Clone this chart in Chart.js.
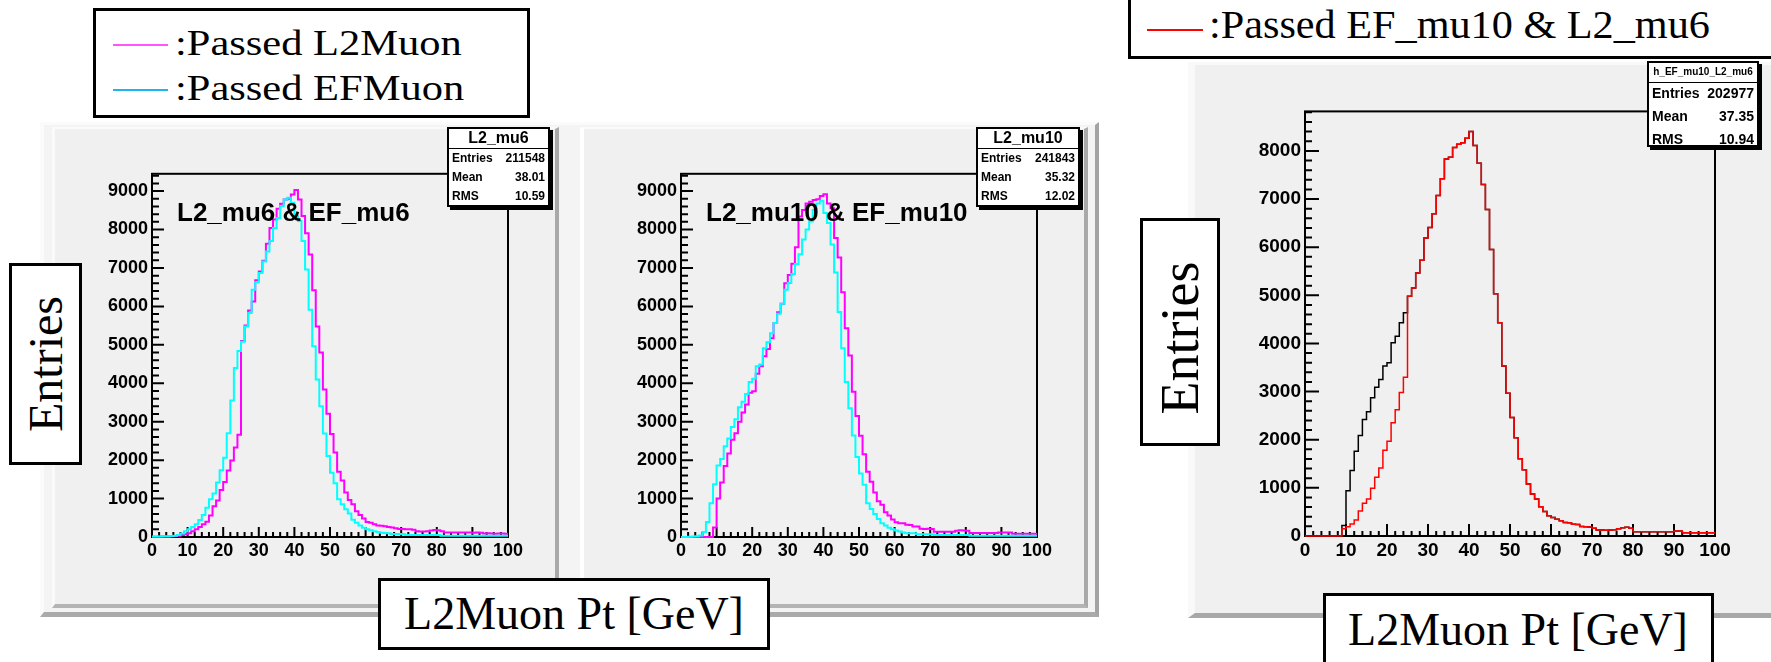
<!DOCTYPE html>
<html>
<head>
<meta charset="utf-8">
<script src="https://cdn.jsdelivr.net/npm/chart.js@4.4.0/dist/chart.umd.min.js"></script>
<style>
  body { margin:0; width:1771px; height:662px; background:#fff; position:relative; overflow:hidden;
         font-family:"Liberation Sans", Arial, sans-serif; }
  .abs { position:absolute; box-sizing:border-box; }
  .box { background:#fff; border:3px solid #000; }
  .serif { font-family:"Liberation Serif", "Times New Roman", serif; white-space:nowrap; line-height:1; color:#000; }
  .stats { background:#fff; border:2px solid #000; box-shadow:3px 3px 0 #000; font-weight:bold; color:#000; }
  .stats .t { position:absolute; left:0; right:0; top:0; text-align:center; border-bottom:1.5px solid #000; }
  .stats .r { position:absolute; left:3px; right:3px; display:flex; justify-content:space-between; }
  .title { font-weight:bold; font-size:26px; line-height:26px; white-space:nowrap; color:#000; }
</style>
</head>
<body>

<!-- left canvas with the two pads -->
<div class="abs" style="left:40px;top:122px;width:1059px;height:495px;background:#f4f4f4;border-left:4px solid #fbfbfb;border-top:3px solid #fbfbfb;border-right:4px solid #a4a4a4;border-bottom:5px solid #aaaaaa;"></div>
<div class="abs" style="left:52px;top:127px;width:507px;height:481px;background:#f0f0f0;border-left:3px solid #fafafa;border-top:2px solid #fafafa;border-right:4px solid #a9a9a9;border-bottom:4px solid #b4b4b4;"></div>
<div class="abs" style="left:580px;top:127px;width:508px;height:481px;background:#f0f0f0;border-left:4px solid #ffffff;border-top:2px solid #fafafa;border-right:4px solid #a9a9a9;border-bottom:4px solid #b4b4b4;"></div>

<!-- right canvas -->
<div class="abs" style="left:1188px;top:62px;width:600px;height:556px;background:#f0f0f0;border-left:7px solid #f9f9f9;border-top:3px solid #f9f9f9;border-bottom:5px solid #a8a8a8;"></div>

<canvas id="c_mu6" class="abs"></canvas>
<canvas id="c_mu10" class="abs"></canvas>
<canvas id="c_ef" class="abs"></canvas>

<!-- pad titles -->
<div class="abs title" style="left:177px;top:199px;">L2_mu6 &amp; EF_mu6</div>
<div class="abs title" style="left:706px;top:199px;">L2_mu10 &amp; EF_mu10</div>

<!-- stats boxes -->
<div class="abs stats" style="left:447px;top:127px;width:103px;height:80px;">
  <div class="t" style="height:19px;font-size:16px;line-height:18px;">L2_mu6</div>
  <div class="r" style="top:20px;font-size:12px;line-height:19px;"><span>Entries</span><span>211548</span></div>
  <div class="r" style="top:39px;font-size:12px;line-height:19px;"><span>Mean</span><span>38.01</span></div>
  <div class="r" style="top:58px;font-size:12px;line-height:19px;"><span>RMS</span><span>10.59</span></div>
</div>
<div class="abs stats" style="left:976px;top:127px;width:104px;height:80px;">
  <div class="t" style="height:19px;font-size:16px;line-height:18px;">L2_mu10</div>
  <div class="r" style="top:20px;font-size:12px;line-height:19px;"><span>Entries</span><span>241843</span></div>
  <div class="r" style="top:39px;font-size:12px;line-height:19px;"><span>Mean</span><span>35.32</span></div>
  <div class="r" style="top:58px;font-size:12px;line-height:19px;"><span>RMS</span><span>12.02</span></div>
</div>
<div class="abs stats" style="left:1647px;top:61px;width:112px;height:86px;">
  <div class="t" style="height:19px;font-size:10px;line-height:18px;">h_EF_mu10_L2_mu6</div>
  <div class="r" style="top:19px;font-size:14px;line-height:23px;"><span>Entries</span><span>202977</span></div>
  <div class="r" style="top:42px;font-size:14px;line-height:23px;"><span>Mean</span><span>37.35</span></div>
  <div class="r" style="top:65px;font-size:14px;line-height:23px;"><span>RMS</span><span>10.94</span></div>
</div>

<!-- legends -->
<div class="abs box" style="left:93px;top:8px;width:437px;height:110px;"></div>
<div class="abs" style="left:113px;top:44px;width:55px;height:2px;background:#ff55ff;"></div>
<div class="abs" style="left:113px;top:89px;width:55px;height:2px;background:#1eb4f0;"></div>
<div class="abs serif" style="left:175px;top:25px;font-size:36px;transform:scaleX(1.18);transform-origin:0 0;">:Passed L2Muon</div>
<div class="abs serif" style="left:175px;top:70px;font-size:36px;transform:scaleX(1.18);transform-origin:0 0;">:Passed EFMuon</div>

<div class="abs box" style="left:1128px;top:-4px;width:700px;height:63px;"></div>
<div class="abs" style="left:1147px;top:29px;width:56px;height:2px;background:#ff0000;"></div>
<div class="abs serif" style="left:1209px;top:4px;font-size:41px;transform:scaleX(1.03);transform-origin:0 0;">:Passed EF_mu10 &amp; L2_mu6</div>

<!-- axis title boxes -->
<div class="abs box" style="left:9px;top:263px;width:73px;height:202px;"></div>
<div class="abs serif" style="left:46px;top:364px;font-size:48px;transform:translate(-50%,-50%) rotate(-90deg);">Entries</div>
<div class="abs box" style="left:1140px;top:218px;width:80px;height:228px;"></div>
<div class="abs serif" style="left:1180px;top:338px;font-size:54px;transform:translate(-50%,-50%) rotate(-90deg);">Entries</div>

<div class="abs box" style="left:378px;top:578px;width:392px;height:72px;"></div>
<div class="abs serif" style="left:574px;top:614px;font-size:46px;transform:translate(-50%,-50%);">L2Muon Pt [GeV]</div>
<div class="abs box" style="left:1323px;top:593px;width:391px;height:90px;"></div>
<div class="abs serif" style="left:1518px;top:630px;font-size:46px;transform:translate(-50%,-50%);">L2Muon Pt [GeV]</div>

<script>
// 100 bins of 1 GeV from 0 to 100
const xMin = 0;
const xMax = 100;
const xTickStep = 10;
const yTickStep = 1000;

// pad 1 : L2_mu6 & EF_mu6
const mu6_L2Muon = [
  5, 8, 10, 12, 15, 20, 25, 35, 50, 70,
  100, 150, 200, 260, 330, 400, 560, 800, 950, 1220,
  1430, 1730, 1990, 2330, 2660, 5100, 5500, 5890, 6130, 6680,
  6910, 7190, 7630, 8040, 8260, 8540, 8670, 8780, 8800, 8910,
  9030, 8780, 8350, 7900, 7350, 6420, 5480, 4800, 3840, 3210,
  2680, 2200, 1700, 1470, 1160, 960, 850, 670, 570, 480,
  390, 370, 330, 300, 290, 280, 260, 250, 230, 210,
  210, 200, 200, 190, 150, 140, 140, 150, 170, 180,
  175, 150, 120, 120, 120, 115, 120, 115, 120, 115,
  110, 115, 110, 90, 95, 90, 85, 90, 90, 85
];
const mu6_EFMuon = [
  10, 12, 15, 18, 20, 25, 35, 50, 90, 150,
  200, 260, 330, 440, 570, 760, 980, 1130, 1420, 1740,
  2060, 2700, 3550, 4400, 4840, 5080, 5480, 5830, 6430, 6630,
  6870, 7170, 7430, 7700, 8040, 8300, 8610, 8780, 8830, 8700,
  8350, 8220, 7700, 6960, 5910, 4960, 4100, 3400, 2690, 2110,
  1670, 1400, 980, 850, 720, 610, 450, 370, 300, 240,
  200, 175, 150, 130, 110, 105, 100, 80, 80, 75,
  75, 55, 55, 55, 55, 55, 55, 55, 55, 55,
  55, 35, 35, 35, 35, 35, 35, 35, 35, 35,
  35, 35, 35, 35, 35, 35, 35, 35, 35, 35
];

// pad 2 : L2_mu10 & EF_mu10
const mu10_L2Muon = [
  0, 0, 0, 0, 0, 0, 0, 0, 0, 250,
  1000, 1420, 1850, 2170, 2530, 2700, 3000, 3240, 3450, 3750,
  3790, 4250, 4440, 4700, 4890, 5170, 5570, 5850, 6070, 6600,
  6815, 7110, 7540, 8340, 8510, 8680, 8725, 8770, 8790, 8870,
  8920, 8680, 8555, 7780, 7270, 6370, 5430, 4720, 3780, 3150,
  2635, 2150, 1700, 1440, 1160, 930, 840, 645, 560, 455,
  385, 360, 355, 320, 315, 275, 270, 215, 210, 215,
  205, 135, 135, 135, 135, 135, 135, 165, 175, 170,
  160, 105, 105, 105, 105, 105, 105, 105, 105, 120,
  120, 120, 120, 85, 85, 85, 85, 85, 85, 85
];
const mu10_EFMuon = [
  0, 0, 5, 10, 20, 40, 130, 390, 875, 1370,
  1860, 2030, 2360, 2560, 2860, 3065, 3375, 3520, 3720, 4030,
  4120, 4440, 4490, 4910, 5065, 5300, 5570, 5810, 6070, 6430,
  6610, 6840, 7100, 7355, 7740, 8000, 8210, 8510, 8680, 8750,
  8430, 8170, 7610, 6880, 5855, 4910, 4030, 3350, 2640, 2080,
  1650, 1360, 875, 730, 600, 470, 360, 300, 240, 200,
  170, 145, 120, 95, 95, 95, 70, 70, 70, 70,
  70, 50, 50, 50, 50, 50, 50, 50, 50, 50,
  50, 35, 35, 35, 35, 35, 35, 35, 35, 35,
  35, 35, 35, 35, 35, 35, 35, 35, 35, 35
];

// right : EF_mu10 (black) and EF_mu10 & L2_mu6 (red)
const ef_mu10 = [
  0, 0, 0, 0, 0, 0, 0, 0, 0, 220,
  940, 1360, 1760, 2090, 2420, 2580, 2870, 3090, 3250, 3530,
  3600, 4015, 4150, 4430, 4635, 4980, 5150, 5465, 5730, 6190,
  6410, 6695, 7075, 7420, 7830, 7870, 8070, 8140, 8170, 8260,
  8400, 8110, 7745, 7300, 6780, 5950, 5030, 4430, 3530, 2965,
  2460, 2040, 1605, 1375, 1080, 870, 770, 610, 510, 420,
  385, 350, 315, 280, 275, 245, 240, 195, 190, 185,
  160, 125, 125, 120, 125, 130, 150, 170, 180, 160,
  90, 90, 90, 90, 90, 90, 90, 90, 90, 90,
  105, 105, 65, 65, 65, 65, 65, 65, 65, 65
];
const ef_mu10_l2_mu6 = [
  0, 0, 0, 0, 0, 0, 0, 0, 0, 150,
  190, 250, 330, 520, 680, 770, 990, 1220, 1410, 1780,
  1970, 2350, 2620, 2980, 3300, 4980, 5150, 5465, 5730, 6190,
  6410, 6695, 7075, 7420, 7830, 7870, 8070, 8140, 8170, 8260,
  8400, 8110, 7745, 7300, 6780, 5950, 5030, 4430, 3530, 2965,
  2460, 2040, 1605, 1375, 1080, 870, 770, 610, 510, 420,
  385, 350, 315, 280, 275, 245, 240, 195, 190, 185,
  160, 125, 125, 120, 125, 130, 150, 170, 180, 160,
  90, 90, 90, 90, 90, 90, 90, 90, 90, 90,
  105, 105, 65, 65, 65, 65, 65, 65, 65, 65
];

// bin contents -> step points on bin edges
function histPoints(vals) {
  const w = (xMax - xMin) / vals.length;
  const pts = vals.map((v, i) => ({ x: xMin + i * w, y: v }));
  pts.push({ x: xMax, y: vals[vals.length - 1] });
  return pts;
}

// ROOT style frame with inward ticks
const rootFrame = {
  id: 'rootFrame',
  beforeDatasetsDraw(chart, args, o) {
    const { ctx, chartArea: a, scales: { x, y } } = chart;
    ctx.save();
    ctx.strokeStyle = '#000';
    ctx.lineWidth = o.lw;
    ctx.beginPath();
    for (let v = x.min; v <= x.max + 0.001; v += 2) {
      const px = x.getPixelForValue(v);
      const len = v % xTickStep === 0 ? o.xMajor : o.xMinor;
      ctx.moveTo(px, a.bottom);
      ctx.lineTo(px, a.bottom - len);
    }
    for (let v = 0; v <= y.max; v += 200) {
      const py = y.getPixelForValue(v);
      const len = v % yTickStep === 0 ? o.yMajor : o.yMinor;
      ctx.moveTo(a.left, py);
      ctx.lineTo(a.left + len, py);
    }
    ctx.stroke();
    ctx.strokeRect(a.left, a.top, a.right - a.left, a.bottom - a.top);
    ctx.restore();
  }
};

function makeHist(id, frame, yMax, series, lw, fontSize, ticks) {
  const padTop = 14, padRight = 25, yAxisW = 60, xAxisH = 30;
  const cv = document.getElementById(id);
  const w = (frame.r - frame.l) + yAxisW + padRight;
  const h = (frame.b - frame.t) + padTop + xAxisH;
  cv.width = w; cv.height = h;
  cv.style.left = (frame.l - yAxisW) + 'px';
  cv.style.top = (frame.t - padTop) + 'px';
  cv.style.width = w + 'px';
  cv.style.height = h + 'px';
  const font = { family: '"Liberation Sans", Arial, sans-serif', size: fontSize, weight: 'bold' };
  return new Chart(cv, {
    type: 'line',
    data: {
      datasets: series.map((s, i) => ({
        data: histPoints(s.data),
        borderColor: s.color,
        borderWidth: lw,
        stepped: 'before',
        pointRadius: 0,
        fill: false,
        tension: 0,
        clip: false,
        order: series.length - i   // later series drawn on top
      }))
    },
    options: {
      responsive: false,
      animation: false,
      events: [],
      layout: { padding: { left: 0, top: padTop, right: padRight, bottom: 0 } },
      plugins: {
        legend: { display: false },
        tooltip: { enabled: false },
        rootFrame: ticks
      },
      scales: {
        x: {
          type: 'linear', min: xMin, max: xMax,
          ticks: { stepSize: xTickStep, font: font, color: '#000', padding: 3, maxRotation: 0, autoSkip: false,
                   callback: v => String(v) },
          grid: { display: false, drawTicks: false },
          border: { display: false },
          afterFit: s => { s.height = xAxisH; }
        },
        y: {
          type: 'linear', min: 0, max: yMax,
          afterBuildTicks: s => {
            const t = [];
            for (let v = 0; v <= s.max; v += yTickStep) t.push({ value: v });
            s.ticks = t;
          },
          ticks: { font: font, color: '#000', padding: 4, autoSkip: false, callback: v => String(v) },
          grid: { display: false, drawTicks: false },
          border: { display: false },
          afterFit: s => { s.width = yAxisW; }
        }
      }
    },
    plugins: [rootFrame]
  });
}

const padTicks = { lw: 2, xMajor: 10, xMinor: 5, yMajor: 12, yMinor: 7 };

makeHist('c_mu6', { l: 152, r: 508, t: 173, b: 537 }, 9450, [
  { data: mu6_L2Muon, color: '#ff00ff' },
  { data: mu6_EFMuon, color: '#00ffff' }
], 2, 18, padTicks);

makeHist('c_mu10', { l: 681, r: 1037, t: 173, b: 537 }, 9450, [
  { data: mu10_L2Muon, color: '#ff00ff' },
  { data: mu10_EFMuon, color: '#00ffff' }
], 2, 18, padTicks);

makeHist('c_ef', { l: 1305, r: 1715, t: 110, b: 536 }, 8820, [
  { data: ef_mu10, color: '#000000' },
  { data: ef_mu10_l2_mu6, color: '#ff0000' }
], 1.5, 19, { lw: 2, xMajor: 12, xMinor: 5, yMajor: 14, yMinor: 7 });
</script>
</body>
</html>
